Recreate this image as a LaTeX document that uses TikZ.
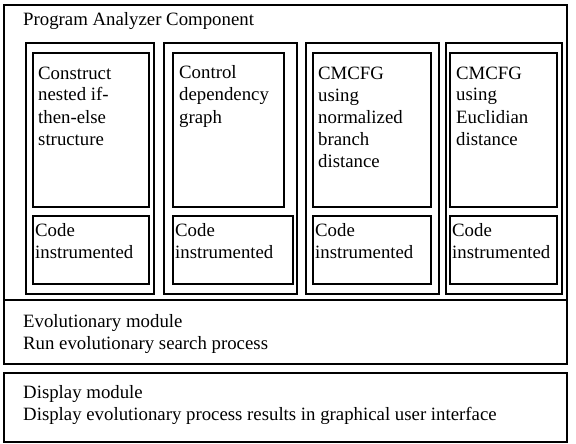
\documentclass[tikz,border=0pt]{standalone}
\usepackage{fontspec}
\setmainfont{Liberation Serif}
\begin{document}
\begin{tikzpicture}[x=1pt,y=-1pt,
  frame/.style={draw=black,line width=1.3pt},
  colbox/.style={draw=black,line width=1.8pt},
  inbox/.style={draw=black,line width=1.8pt},
  txt/.style={anchor=base west,inner sep=0pt,align=left,font=\fontsize{18.8}{22}\selectfont}]
\useasboundingbox (0,0) rectangle (576,444);
% outer frames
\draw[frame] (4,5) rectangle (567,364);
\draw[frame] (4,300) -- (567,300);
\draw[frame] (4,373) rectangle (567,442);
% columns
\draw[colbox] (26,43) rectangle (154,294);
\draw[colbox] (164,43) rectangle (297,294);
\draw[colbox] (306,43) rectangle (439,294);
\draw[colbox] (446,43) rectangle (562,294);
% upper inner boxes
\draw[inbox] (33,53) rectangle (149,207);
\draw[inbox] (173,53) rectangle (284,207);
\draw[inbox] (313,53) rectangle (431,207);
\draw[inbox] (450,53) rectangle (557,207);
% code boxes
\draw[inbox] (33,216) rectangle (149,284);
\draw[inbox] (173,216) rectangle (293,284);
\draw[inbox] (313,216) rectangle (431,284);
\draw[inbox] (450,216) rectangle (557,284);
% texts (anchored at the baseline of the last line)
\node[txt] (pac) at (23,26) {Program Analyzer Component};
\node[txt] (t1) at (38,145) {Construct\\nested if-\\then-else\\structure};
\node[txt] (t2) at (179,123) {Control\\dependency\\graph};
\node[txt] (t3) at (318,167) {CMCFG\\using\\normalized\\branch\\distance};
\node[txt] (t4) at (456,145) {CMCFG\\using\\Euclidian\\distance};
\node[txt] (c1) at (35,258) {Code\\instrumented};
\node[txt] (c2) at (175,258) {Code\\instrumented};
\node[txt] (c3) at (315,258) {Code\\instrumented};
\node[txt] (c4) at (452,258) {Code\\instrumented};
\node[txt] (evo) at (23,349) {Evolutionary module\\Run evolutionary search process};
\node[txt] (disp) at (23,420) {Display module\\Display evolutionary process results in graphical user interface};
\end{tikzpicture}
\end{document}
